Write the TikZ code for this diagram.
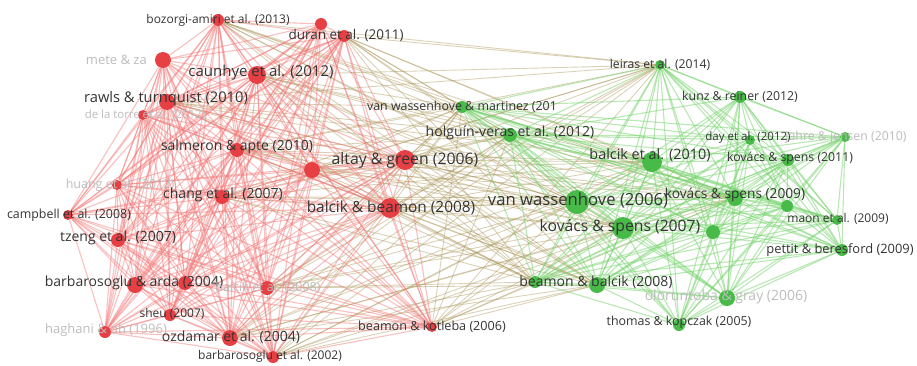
\documentclass[tikz,border=0pt]{standalone}
\usepackage{fontspec}
\setmainfont{Open Sans}
\usetikzlibrary{backgrounds}
\definecolor{rednode}{RGB}{230,64,68}
\definecolor{rededge}{RGB}{242,115,115}
\definecolor{greennode}{RGB}{72,186,72}
\definecolor{greenedge}{RGB}{115,210,105}
\definecolor{crossedge}{RGB}{168,146,84}
\definecolor{labtext}{RGB}{52,52,52}
\definecolor{labfade}{RGB}{188,188,188}
\tikzset{
  rn/.style={circle,fill=rednode,inner sep=0pt,minimum size=#1},
  gn/.style={circle,fill=greennode,inner sep=0pt,minimum size=#1},
  lab/.style={text=labtext,inner sep=0pt,font=\fontsize{#1}{#1}\selectfont},
  flab/.style={lab=#1,text=labfade},
  redline/.style={draw=rededge,line width=1.1pt,opacity=0.45},
  greenline/.style={draw=greenedge,line width=1.1pt,opacity=0.5},
  crossline/.style={draw=crossedge,line width=0.9pt,opacity=0.42}
}
\def\redlist{boz,ured,dur,mete,cau,raw,torre,sal,ured2,alt,hua,cha,cam,tze,bbe,bar,ured3,bal08,she,hag,ozd,bar02,bko}
\def\greenlist{vwm,hol,lei,kun,b10,day,jah,k11,vw06,k09,ug1,k07,ug2,mao,pet,beb1,beb,olo,tho}
\begin{document}
\begin{tikzpicture}[x=1pt,y=-1pt]
\useasboundingbox (0,0) rectangle (917,365);

% red cluster
\node[rn=12] (boz) at (218,20) {};
\node[rn=12] (ured) at (321,24) {};
\node[rn=12] (dur) at (344,36) {};
\node[rn=16] (mete) at (163,60) {};
\node[rn=18] (cau) at (257,75) {};
\node[rn=16] (raw) at (167,102) {};
\node[rn=10] (torre) at (143,115) {};
\node[rn=14] (sal) at (237,150) {};
\node[rn=16] (ured2) at (312,170) {};
\node[rn=20] (alt) at (405,160) {};
\node[rn=10] (hua) at (117,185) {};
\node[rn=14] (cha) at (222,197) {};
\node[rn=10] (cam) at (68,215) {};
\node[rn=14] (tze) at (118,240) {};
\node[rn=20] (bbe) at (390,208) {};
\node[rn=16] (bar) at (135,285) {};
\node[rn=14] (ured3) at (185,283) {};
\node[rn=14] (bal08) at (267,288) {};
\node[rn=12] (she) at (170,315) {};
\node[rn=12] (hag) at (105,332) {};
\node[rn=16] (ozd) at (230,338) {};
\node[rn=12] (bar02) at (273,357) {};
\node[rn=10] (bko) at (432,327) {};

% green cluster
\node[gn=12] (vwm) at (462,107) {};
\node[gn=14] (hol) at (510,135) {};
\node[gn=10] (lei) at (660,65) {};
\node[gn=12] (kun) at (740,97) {};
\node[gn=20] (b10) at (652,162) {};
\node[gn=10] (day) at (750,140) {};
\node[gn=10] (jah) at (845,137) {};
\node[gn=12] (k11) at (788,160) {};
\node[gn=24] (vw06) at (577,202) {};
\node[gn=16] (k09) at (735,198) {};
\node[gn=12] (ug1) at (787,206) {};
\node[gn=22] (k07) at (623,228) {};
\node[gn=14] (ug2) at (713,232) {};
\node[gn=10] (mao) at (837,220) {};
\node[gn=12] (pet) at (842,250) {};
\node[gn=12] (beb1) at (535,282) {};
\node[gn=16] (beb) at (597,285) {};
\node[gn=16] (olo) at (727,298) {};
\node[gn=12] (tho) at (679,325) {};

% links
\begin{pgfonlayer}{background}
\foreach \a [count=\i] in {alt,bbe,cau,ured2,sal,cha,bal08,bko,bar02,ozd,dur,raw,boz}
  \foreach \b in {vw06,k07,b10,hol,vwm,beb,k09,lei,beb1}
    \draw[crossline] (\a) -- (\b);
\foreach \a [count=\i] in \redlist
  \foreach \b [count=\j] in \redlist {
    \ifnum\j>\i \draw[redline] (\a) -- (\b); \fi
  }
\foreach \a [count=\i] in \greenlist
  \foreach \b [count=\j] in \greenlist {
    \ifnum\j>\i \draw[greenline] (\a) -- (\b); \fi
  }
\end{pgfonlayer}

% labels
\node[lab=12] at (218,20) {bozorgi-amiri et al. (2013)};
\node[lab=13.5] at (346,35) {duran et al. (2011)};
\node[flab=13,anchor=east] at (147,60) {mete \& za};
\node[lab=15] at (261,73) {caunhye et al. (2012)};
\node[lab=14.7] at (166,99) {rawls \& turnquist (2010)};
\node[flab=11.4] at (145,115) {de la torre et al. (2012)};
\node[lab=14] at (237,147) {salmeron \& apte (2010)};
\node[lab=15.8] at (405,160) {altay \& green (2006)};
\node[flab=12.5] at (120,185) {huang et al. (2012)};
\node[lab=14] at (223,195) {chang et al. (2007)};
\node[lab=12.4] at (69,215) {campbell et al. (2008)};
\node[lab=14] at (118,238) {tzeng et al. (2007)};
\node[lab=15.4] at (391,208) {balcik \& beamon (2008)};
\node[lab=14] at (134,283) {barbarosoglu \& arda (2004)};
\node[flab=12.5] at (268,288) {balcik et al. (2008)};
\node[lab=12] at (172,314) {sheu (2007)};
\node[flab=13] at (106,330) {haghani \& oh (1996)};
\node[lab=14] at (231,337) {ozdamar et al. (2004)};
\node[lab=12] at (270,356) {barbarosoglu et al. (2002)};
\node[lab=12.6] at (432,327) {beamon \& kotleba (2006)};

\node[lab=12.4] at (462,107) {van wassenhove \& martinez (201};
\node[lab=14] at (510,133) {holguín-veras et al. (2012)};
\node[lab=12.2] at (660,65) {leiras et al. (2014)};
\node[lab=12.3] at (740,97) {kunz \& reiner (2012)};
\node[lab=14.4] at (650,155) {balcik et al. (2010)};
\node[flab=12.3] at (846,137) {jahre \& jensen (2010)};
\node[lab=11.5] at (748,138) {day et al. (2012)};
\node[lab=12.3] at (790,158) {kovács \& spens (2011)};
\node[lab=16.7] at (578,200) {van wassenhove (2006)};
\node[lab=13.7] at (735,195) {kovács \& spens (2009)};
\node[lab=15.7] at (620,227) {kovács \& spens (2007)};
\node[lab=12] at (838,219) {maon et al. (2009)};
\node[lab=12.9] at (840,250) {pettit \& beresford (2009)};
\node[lab=14] at (596,282) {beamon \& balcik (2008)};
\node[flab=14] at (726,297) {oloruntoba \& gray (2006)};
\node[lab=12.4] at (679,322) {thomas \& kopczak (2005)};
\end{tikzpicture}
\end{document}
